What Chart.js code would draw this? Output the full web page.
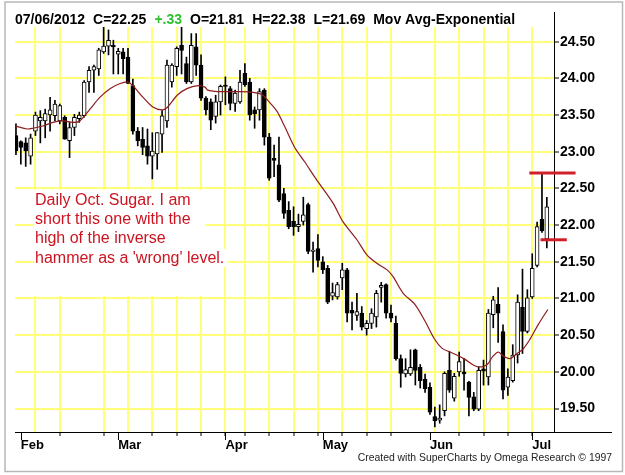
<!DOCTYPE html>
<html>
<head>
<meta charset="utf-8">
<script src="https://cdn.jsdelivr.net/npm/chart.js@4.4.1/dist/chart.umd.min.js"></script>
<style>
  html, body { margin: 0; padding: 0; background: #fff; }
</style>
</head>
<body>
<canvas id="sugarChart" width="625" height="475"></canvas>
<script>
// daily Oct. sugar, 01/31/2012 .. 07/06/2012 (one entry per trading day)
const opens = [
  23.22, 23.14, 23.12, 22.94, 23.28, 23.42, 23.42, 23.50, 23.49, 23.42,
  23.47, 23.15, 23.33, 23.45, 23.49, 23.95, 24.11, 24.13, 24.36, 24.44,
  24.45, 24.33, 24.36, 24.29, 23.90, 23.28, 23.17, 23.08, 22.94, 22.97,
  23.24, 23.42, 23.95, 24.16, 24.45, 24.20, 23.95, 24.43, 24.18, 23.73,
  23.68, 23.48, 23.68, 23.91, 23.86, 23.66, 23.68, 24.07, 23.95, 23.57,
  23.57, 23.84, 23.20, 22.91, 22.82, 22.43, 22.20, 22.05, 21.98, 22.05,
  22.28, 21.64, 21.68, 21.50, 21.41, 21.03, 21.02, 21.28, 21.39, 20.84,
  20.77, 20.80, 20.59, 20.66, 20.75, 21.15, 21.19, 20.80, 20.66, 20.18,
  19.97, 19.97, 20.30, 20.06, 19.90, 19.79, 19.39, 19.34, 19.47, 20.02,
  19.64, 20.00, 20.00, 19.86, 19.66, 19.49, 20.04, 19.93, 20.78, 20.92,
  20.55, 19.79, 19.88, 20.23, 20.88, 20.55, 21.02, 21.45, 22.08, 21.81
];
const highs = [
  23.38, 23.15, 23.19, 23.24, 23.54, 23.56, 23.58, 23.74, 23.70, 23.65,
  23.49, 23.40, 23.51, 23.54, 23.97, 24.16, 24.18, 24.41, 24.71, 24.66,
  24.52, 24.41, 24.41, 24.41, 23.99, 23.33, 23.33, 23.31, 23.26, 23.26,
  23.56, 24.25, 24.20, 24.43, 24.70, 24.29, 24.61, 24.61, 24.32, 23.75,
  23.72, 23.77, 23.91, 24.02, 23.89, 23.84, 24.11, 24.20, 24.00, 23.61,
  23.86, 23.86, 23.25, 23.09, 23.20, 22.50, 22.32, 22.25, 22.15, 22.38,
  22.30, 21.77, 21.87, 21.57, 21.45, 21.21, 21.22, 21.48, 21.41, 20.95,
  21.07, 20.89, 20.70, 20.86, 21.11, 21.22, 21.20, 20.91, 20.76, 20.23,
  20.18, 20.30, 20.31, 20.10, 19.97, 19.85, 19.52, 19.55, 20.00, 20.28,
  19.98, 20.27, 20.18, 19.87, 19.72, 20.07, 20.16, 20.85, 21.03, 21.15,
  20.64, 20.04, 20.37, 21.05, 21.40, 21.12, 21.61, 22.04, 22.72, 22.38
];
const lows = [
  22.96, 22.83, 22.80, 22.83, 23.22, 23.12, 23.19, 23.28, 23.42, 23.38,
  23.17, 22.92, 23.22, 23.40, 23.47, 23.81, 23.81, 24.04, 24.34, 24.32,
  24.06, 24.06, 24.06, 23.93, 23.24, 23.08, 22.96, 22.83, 22.63, 22.76,
  22.99, 23.33, 23.88, 24.04, 24.06, 23.93, 23.93, 24.04, 23.70, 23.50,
  23.30, 23.39, 23.50, 23.64, 23.57, 23.55, 23.66, 23.89, 23.43, 23.32,
  23.43, 23.09, 22.61, 22.66, 22.32, 22.09, 21.95, 21.86, 21.91, 22.00,
  21.61, 21.36, 21.43, 21.34, 20.93, 20.98, 20.99, 21.12, 20.68, 20.57,
  20.70, 20.57, 20.50, 20.59, 20.61, 20.95, 20.73, 20.68, 20.16, 19.79,
  19.93, 19.95, 19.82, 19.78, 19.72, 19.42, 19.25, 19.30, 19.40, 19.72,
  19.60, 19.94, 19.75, 19.40, 19.47, 19.47, 19.82, 19.82, 20.60, 20.40,
  19.63, 19.68, 19.86, 20.12, 20.25, 20.53, 21.00, 21.43, 21.90, 21.69
];
const closes = [
  23.01, 23.06, 23.01, 23.19, 23.50, 23.47, 23.52, 23.57, 23.65, 23.63,
  23.17, 23.33, 23.47, 23.50, 23.95, 24.11, 24.16, 24.39, 24.44, 24.52,
  24.43, 24.37, 24.27, 23.93, 23.28, 23.15, 23.06, 22.94, 23.01, 23.26,
  23.49, 24.18, 24.18, 24.41, 24.38, 23.95, 24.45, 24.18, 23.73, 23.57,
  23.43, 23.68, 23.89, 23.89, 23.66, 23.80, 23.95, 23.91, 23.50, 23.52,
  23.82, 23.20, 22.64, 22.88, 22.34, 22.16, 21.98, 21.98, 22.01, 22.14,
  21.64, 21.66, 21.52, 21.39, 20.95, 21.08, 21.19, 21.39, 20.80, 20.80,
  20.82, 20.61, 20.66, 20.80, 21.07, 21.18, 20.80, 20.73, 20.18, 19.98,
  20.03, 20.06, 20.02, 19.88, 19.77, 19.45, 19.33, 19.37, 19.98, 19.75,
  19.94, 20.14, 19.97, 19.65, 19.49, 20.02, 20.01, 20.80, 20.98, 20.80,
  19.75, 19.93, 20.23, 20.95, 20.55, 21.01, 21.41, 21.98, 21.92, 22.25
];

// exponential moving average (bar index, value)
const maIdx = [0, 2.3, 3.5, 5.5, 7.6, 9.7, 11.7, 13.1, 15.2, 17.2, 19.3, 21.4, 23, 24, 26.1, 28.1,
  30, 31, 33.1, 35.1, 37.4, 38.8, 39.4, 41.5, 43.5, 45.6, 48.7, 50.5, 51.7, 53.6, 55.2, 57.3,
  59.3, 61.6, 65.1, 67.1, 70, 72.1, 74.1, 76.2, 77.4, 79.5, 81.9, 84, 86, 87.5, 89.1, 90.8,
  92.2, 94.3, 95.9, 96.9, 97.9, 99, 100, 101.4, 102.9, 104.1, 105.5, 107.2, 109.2];
const maVal = [23.35, 23.31, 23.32, 23.35, 23.40, 23.42, 23.40, 23.42, 23.58, 23.74, 23.86, 23.93, 23.95, 23.90, 23.74, 23.61,
  23.57, 23.60, 23.77, 23.86, 23.90, 23.88, 23.84, 23.82, 23.82, 23.82, 23.81, 23.78, 23.70, 23.55, 23.34, 23.05,
  22.86, 22.63, 22.30, 22.05, 21.80, 21.59, 21.48, 21.39, 21.30, 21.07, 20.92, 20.69, 20.44, 20.32, 20.27, 20.22,
  20.17, 20.08, 20.07, 20.11, 20.21, 20.27, 20.22, 20.18, 20.25, 20.31, 20.44, 20.64, 20.85];

// axis layout (bar indexes)
const gridIdx = [4, 9, 18, 23, 28, 33, 38, 43, 47, 52, 57, 62, 67, 72, 77, 86, 91, 96, 101, 106]; // Mondays
const weekTickIdx = [9, 18, 28, 33, 38, 43, 47, 52, 57, 62, 67, 72, 77, 91, 96, 101, 106];
const monthIdx = [1, 21, 43, 63, 85, 106];
const monthLabels = ["Feb", "Mar", "Apr", "May", "Jun", "Jul"];
const yTicks = [19.5, 20, 20.5, 21, 21.5, 22, 22.5, 23, 23.5, 24, 24.5];

const header = ["07/06/2012", "C=22.25", "+.33", "O=21.81", "H=22.38", "L=21.69", "Mov Avg-Exponential"];
const noteLines = ["Daily Oct. Sugar. I am", "short this one with the", "high of the inverse", "hammer as a 'wrong' level."];
const levels = [
  { value: 22.71, from: 105.4, to: 114.9 },
  { value: 21.80, from: 107.7, to: 113.1 },
];

const YELLOW = "rgb(255, 255, 120)";
const FONT = "'Liberation Sans', Arial, sans-serif";
const gridSet = new Set(gridIdx);
const tickSet = new Set(weekTickIdx);
const allTicks = [...new Set([...gridIdx, ...monthIdx])].sort((a, b) => a - b);

const decor = {
  id: "decor",
  beforeDraw(chart) {
    const ctx = chart.ctx;
    ctx.save();
    ctx.fillStyle = "#fff";
    ctx.fillRect(0, 0, chart.width, chart.height);
    ctx.restore();
  },
  beforeDatasetsDraw(chart) {
    // note box hides the grid behind it
    const ctx = chart.ctx;
    ctx.save();
    ctx.fillStyle = "#fff";
    ctx.fillRect(34, 190, 172, 106);
    ctx.font = "16px " + FONT;
    ctx.fillRect(34, 249, ctx.measureText(noteLines[3]).width + 4, 18);
    ctx.fillStyle = "#cc1420";
    ctx.textBaseline = "alphabetic";
    noteLines.forEach((t, k) => ctx.fillText(t, 35, 205 + k * 19.2));
    ctx.restore();
  },
  afterDraw(chart) {
    const ctx = chart.ctx;
    const x = chart.scales.x, y = chart.scales.y;
    const area = chart.chartArea;
    ctx.save();

    // axis lines running past the plot
    ctx.strokeStyle = "#000";
    ctx.lineWidth = 1;
    ctx.beginPath();
    ctx.moveTo(area.right, area.bottom + 0.5);
    ctx.lineTo(612, area.bottom + 0.5);
    ctx.moveTo(area.right + 0.5, area.top);
    ctx.lineTo(area.right + 0.5, 12);
    monthIdx.forEach((v) => {
      const px = Math.round(x.getPixelForValue(v)) + 0.5;
      ctx.moveTo(px, area.bottom);
      ctx.lineTo(px, area.bottom + 8);
    });
    ctx.stroke();

    // red levels
    ctx.strokeStyle = "#d0202a";
    ctx.lineWidth = 3;
    levels.forEach((l) => {
      const py = y.getPixelForValue(l.value);
      ctx.beginPath();
      ctx.moveTo(x.getPixelForValue(l.from), py);
      ctx.lineTo(x.getPixelForValue(l.to), py);
      ctx.stroke();
    });

    // header line
    ctx.font = "bold 14px " + FONT;
    ctx.textBaseline = "alphabetic";
    let hx = 15;
    header.forEach((t) => {
      ctx.fillStyle = t.startsWith("+") ? "#2ec02e" : "#000";
      ctx.fillText(t, hx, 24);
      hx += ctx.measureText(t).width + 8;
    });

    // footer
    ctx.font = "10.4px " + FONT;
    ctx.fillStyle = "#222";
    ctx.textAlign = "right";
    ctx.fillText("Created with SuperCharts by Omega Research \u00a9 1997", 612, 461);

    // frame
    ctx.strokeStyle = "#b8b8b8";
    ctx.lineWidth = 1.5;
    ctx.strokeRect(5, 2, 617.5, 469.5);
    ctx.restore();
  },
};

const isGrid = (c) => c.tick && gridSet.has(c.tick.value);
const isWeekTick = (c) => c.tick && tickSet.has(c.tick.value);

new Chart(document.getElementById("sugarChart"), {
  data: {
    datasets: [
      {
        type: "bar",
        label: "range",
        data: highs.map((h, i) => ({ x: i, y: [lows[i], h] })),
        backgroundColor: "#000",
        barThickness: 1,
        grouped: false,
        order: 3,
      },
      {
        type: "bar",
        label: "body",
        data: opens.map((o, i) => ({ x: i, y: [Math.min(o, closes[i]), Math.max(o, closes[i])] })),
        backgroundColor: (c) => (closes[c.dataIndex] >= opens[c.dataIndex] ? "#fff" : "#000"),
        borderColor: "#000",
        borderWidth: 1,
        borderSkipped: false,
        barThickness: 4,
        minBarLength: 1,
        grouped: false,
        order: 2,
      },
      {
        type: "line",
        label: "Mov Avg-Exponential",
        data: maIdx.map((v, i) => ({ x: v, y: maVal[i] })),
        borderColor: "#8e1c1c",
        borderWidth: 1.2,
        pointRadius: 0,
        tension: 0.3,
        order: 1,
      },
    ],
  },
  options: {
    responsive: false,
    animation: false,
    layout: { padding: { left: 15, top: 27, right: 0, bottom: 0 } },
    plugins: {
      legend: { display: false },
      tooltip: { enabled: false },
    },
    scales: {
      x: {
        type: "linear",
        offset: false,
        min: -0.2,
        max: 110.47,
        afterBuildTicks: (s) => { s.ticks = allTicks.map((v) => ({ value: v })); },
        afterFit: (s) => { s.height = 43; },
        grid: {
          offset: false,
          color: (c) => (isGrid(c) ? YELLOW : "rgba(0,0,0,0)"),
          lineWidth: 2,
          tickColor: (c) => (isWeekTick(c) ? "#000" : "rgba(0,0,0,0)"),
          tickLength: 4,
          tickWidth: 1,
        },
        border: { display: true, color: "#000", width: 1 },
        ticks: {
          autoSkip: false,
          maxRotation: 0,
          align: "start",
          padding: 2,
          color: "#000",
          font: { family: FONT, size: 13, weight: "bold" },
          callback: (v) => {
            const k = monthIdx.indexOf(v);
            return k >= 0 ? monthLabels[k] : "";
          },
        },
      },
      y: {
        type: "linear",
        position: "right",
        min: 19.18,
        max: 24.7,
        afterBuildTicks: (s) => { s.ticks = yTicks.map((v) => ({ value: v })); },
        afterFit: (s) => { s.width = 71; },
        grid: {
          color: YELLOW,
          lineWidth: 2,
          tickColor: "#000",
          tickLength: 5,
          tickWidth: 1,
        },
        border: { display: true, color: "#000", width: 1 },
        ticks: {
          padding: 1,
          color: "#000",
          font: { family: FONT, size: 14, weight: "bold" },
          callback: (v) => v.toFixed(2),
        },
      },
    },
  },
  plugins: [decor],
});
</script>
</body>
</html>
